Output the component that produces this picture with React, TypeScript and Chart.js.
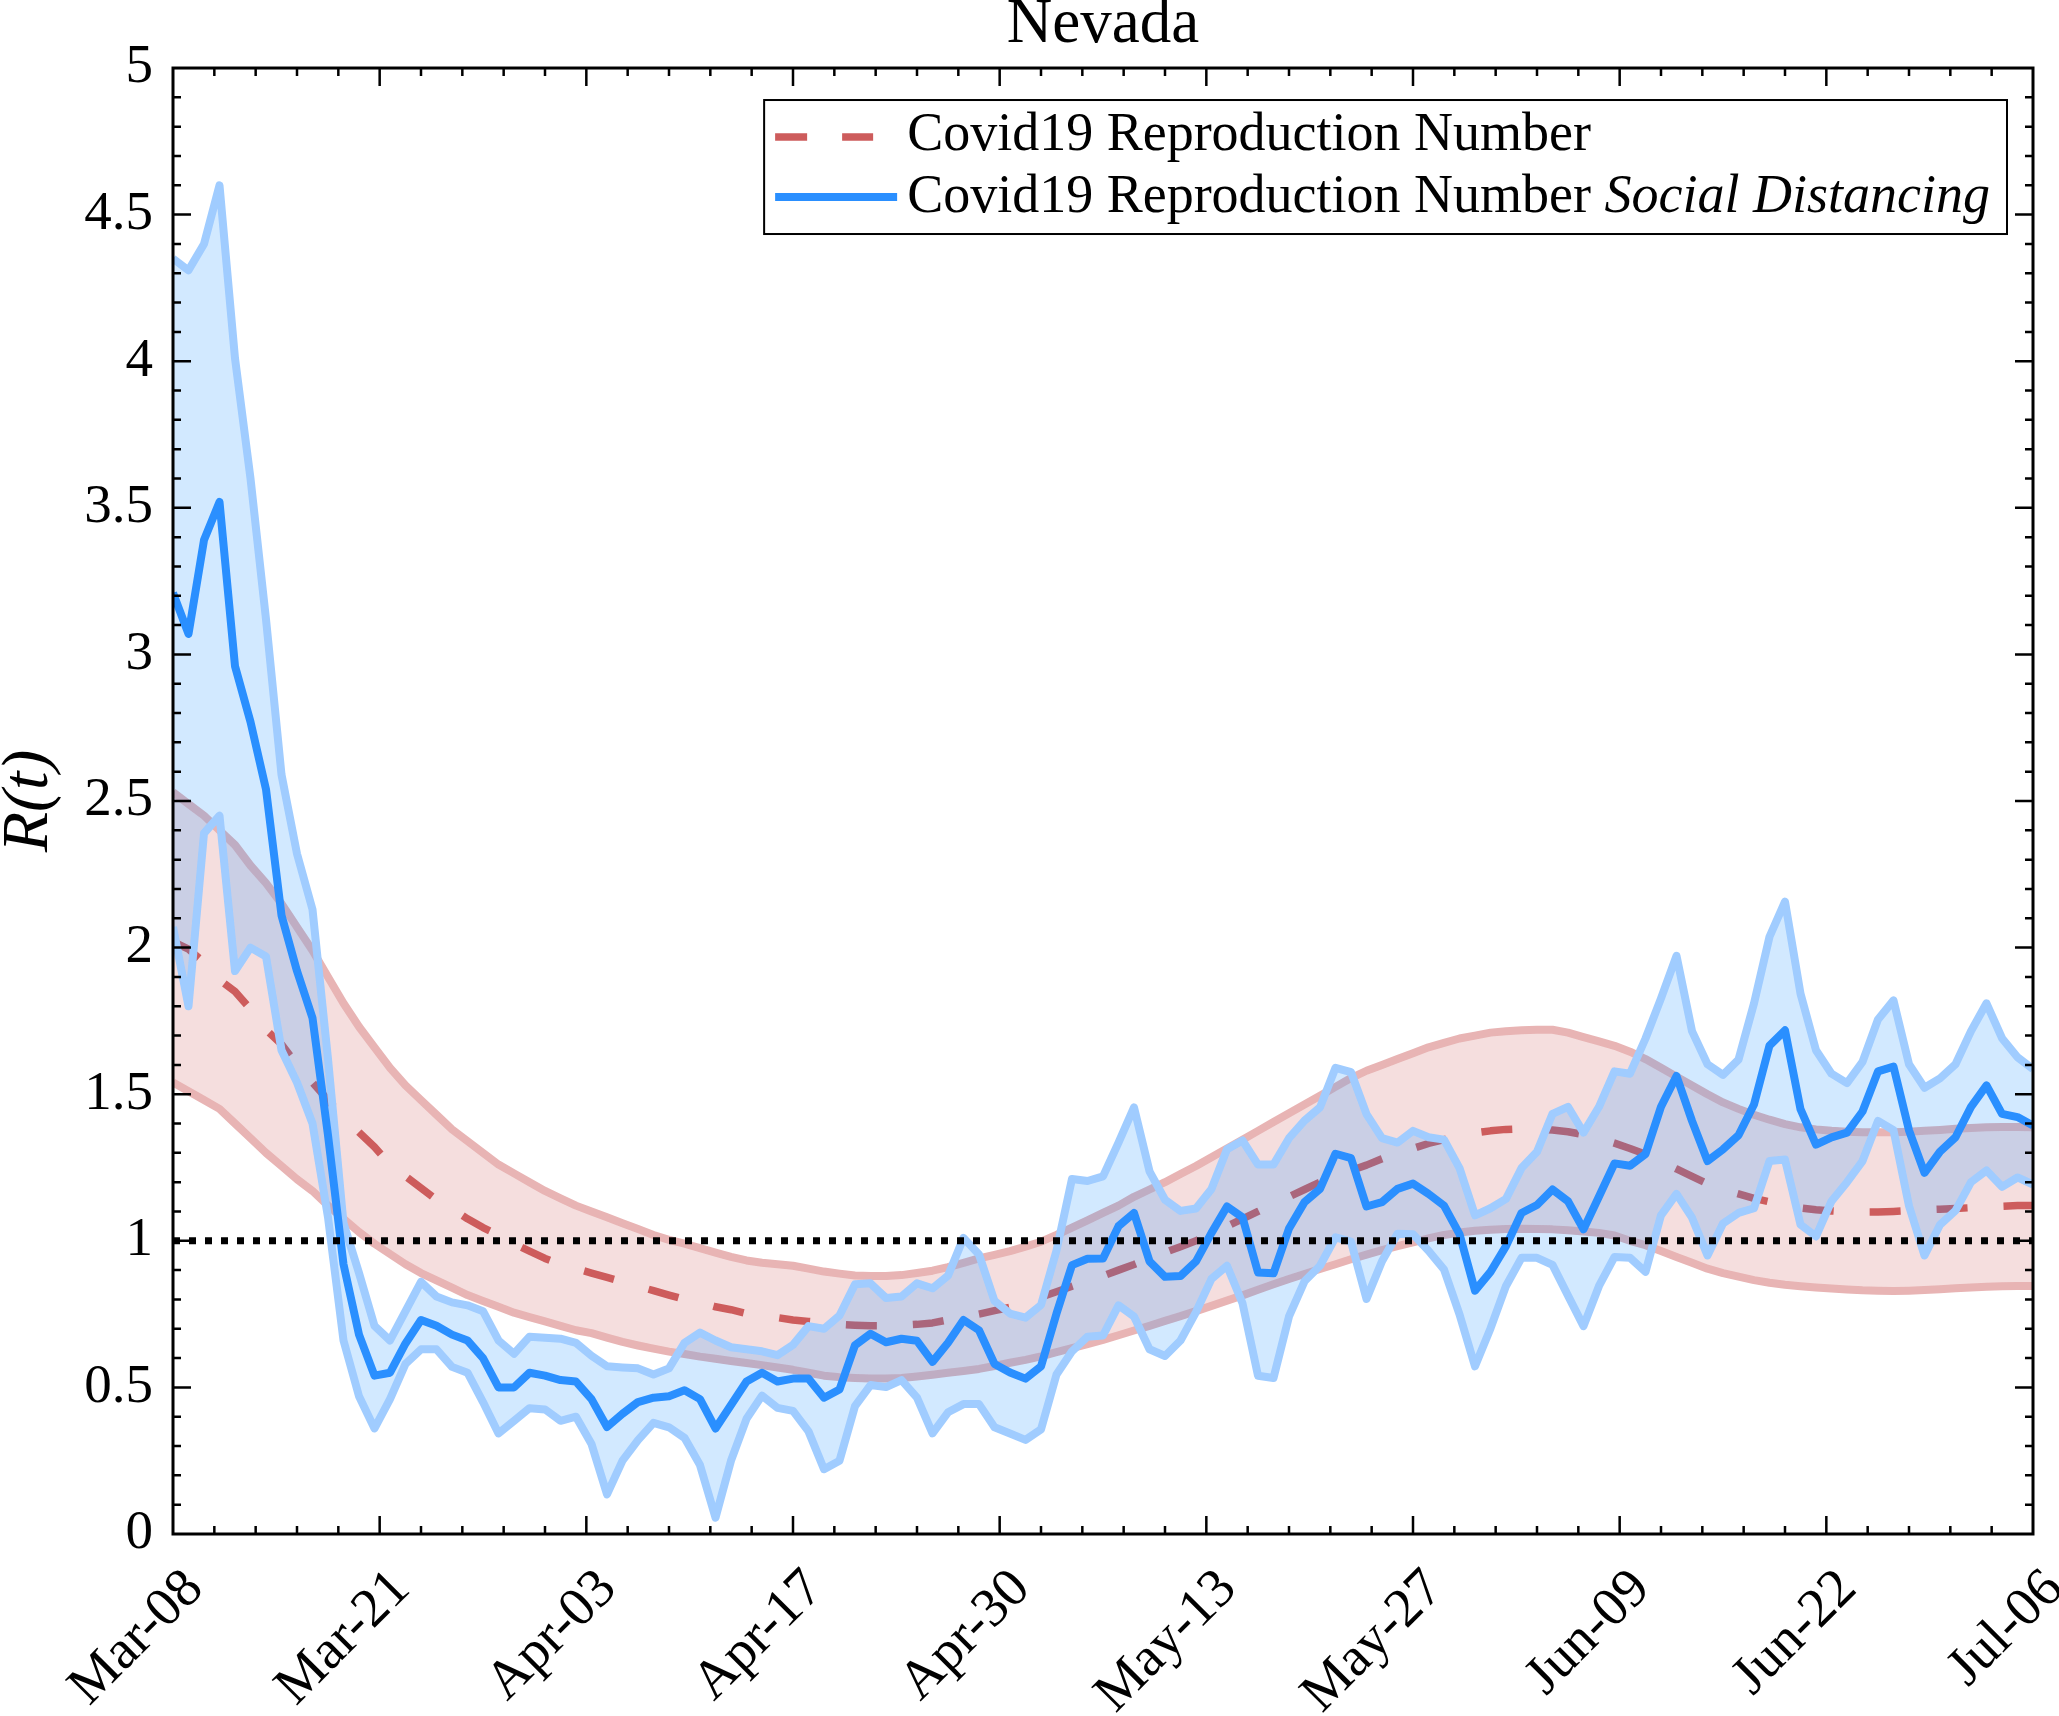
import { useEffect, useRef } from "react";
import { Chart, registerables } from "chart.js";

Chart.register(...registerables);

// days since Mar-08, ticks every 120/9 days
const dayCount: number = 120;
const xTickLabels: string[] = ["Mar-08", "Mar-21", "Apr-03", "Apr-17", "Apr-30", "May-13", "May-27", "Jun-09", "Jun-22", "Jul-06"];
const threshold: number = 1;

const legendLabels: string[] = ["Covid19 Reproduction Number", "Covid19 Reproduction Number"];
const legendEmphasis: string = "Social Distancing";

// R(t) with social distancing (blue) and its band
const blueMid: number[] = [
  3.21, 3.07, 3.39, 3.52, 2.96, 2.77, 2.54, 2.11, 1.92, 1.76,
  1.36, 0.92, 0.68, 0.54, 0.55, 0.65, 0.73, 0.71, 0.68, 0.66,
  0.6, 0.5, 0.5, 0.55, 0.54, 0.525, 0.52, 0.46, 0.365, 0.41,
  0.45, 0.465, 0.47, 0.49, 0.46, 0.36, 0.44, 0.52, 0.55, 0.52,
  0.53, 0.53, 0.465, 0.493, 0.644, 0.683, 0.654, 0.666, 0.659, 0.587,
  0.652, 0.73, 0.695, 0.58, 0.551, 0.53, 0.572, 0.752, 0.917, 0.939,
  0.94, 1.05, 1.095, 0.93, 0.877, 0.88, 0.93, 1.027, 1.117, 1.08,
  0.892, 0.889, 1.042, 1.132, 1.177, 1.297, 1.282, 1.117, 1.132, 1.177,
  1.195, 1.16, 1.12, 1.023, 0.83, 0.894, 0.982, 1.095, 1.122, 1.175,
  1.135, 1.039, 1.151, 1.264, 1.256, 1.296, 1.457, 1.562, 1.409, 1.272,
  1.312, 1.36, 1.465, 1.666, 1.718, 1.449, 1.328, 1.353, 1.369, 1.441,
  1.578, 1.594, 1.377, 1.232, 1.304, 1.353, 1.457, 1.53, 1.433, 1.422,
  1.393,
];
const blueUpper: number[] = [
  4.35, 4.31, 4.4, 4.6, 4.01, 3.6, 3.12, 2.59, 2.32, 2.13,
  1.62, 1.06, 0.89, 0.71, 0.66, 0.76, 0.86, 0.81, 0.79, 0.78,
  0.76, 0.66, 0.615, 0.673, 0.669, 0.666, 0.652, 0.608, 0.572, 0.568,
  0.565, 0.544, 0.565, 0.652, 0.687, 0.66, 0.637, 0.63, 0.623, 0.61,
  0.645, 0.709, 0.7, 0.745, 0.852, 0.855, 0.805, 0.81, 0.855, 0.838,
  0.881, 1.01, 0.953, 0.795, 0.752, 0.738, 0.781, 0.967, 1.211, 1.204,
  1.22, 1.335, 1.455, 1.237, 1.14, 1.102, 1.11, 1.177, 1.312, 1.342,
  1.26, 1.26, 1.35, 1.41, 1.455, 1.59, 1.575, 1.432, 1.35, 1.335,
  1.375, 1.353, 1.345, 1.248, 1.087, 1.111, 1.143, 1.248, 1.304, 1.433,
  1.457, 1.369, 1.457, 1.578, 1.57, 1.69, 1.827, 1.972, 1.715, 1.602,
  1.566, 1.618, 1.81, 2.037, 2.157, 1.843, 1.65, 1.57, 1.538, 1.61,
  1.755, 1.82, 1.602, 1.522, 1.554, 1.602, 1.715, 1.81, 1.691, 1.626,
  1.586,
];
const blueLower: number[] = [
  2.07, 1.8, 2.39, 2.45, 1.92, 2.0, 1.97, 1.65, 1.54, 1.4,
  1.08, 0.66, 0.47, 0.36, 0.46, 0.58, 0.63, 0.63, 0.57, 0.55,
  0.45, 0.343, 0.386, 0.429, 0.425, 0.386, 0.4, 0.307, 0.135, 0.25,
  0.32, 0.379, 0.364, 0.328, 0.235, 0.056, 0.25, 0.393, 0.472, 0.43,
  0.42, 0.35, 0.221, 0.25, 0.436, 0.508, 0.501, 0.525, 0.465, 0.343,
  0.415, 0.443, 0.443, 0.364, 0.343, 0.321, 0.357, 0.544, 0.623, 0.673,
  0.677, 0.78, 0.742, 0.63, 0.607, 0.66, 0.757, 0.87, 0.915, 0.787,
  0.54, 0.532, 0.742, 0.862, 0.915, 1.012, 0.997, 0.802, 0.93, 1.024,
  1.022, 0.966, 0.902, 0.749, 0.572, 0.701, 0.846, 0.942, 0.942, 0.918,
  0.813, 0.709, 0.846, 0.945, 0.942, 0.894, 1.087, 1.16, 1.079, 0.95,
  1.059, 1.095, 1.111, 1.272, 1.277, 1.055, 1.015, 1.135, 1.2, 1.272,
  1.409, 1.377, 1.119, 0.95, 1.055, 1.103, 1.2, 1.24, 1.184, 1.216,
  1.192,
];

// plain R(t) (red dashed) and its band
const redMid: number[] = [
  2.02, 1.995, 1.95, 1.89, 1.85, 1.79, 1.72, 1.67, 1.6, 1.54,
  1.48, 1.42, 1.37, 1.32, 1.26, 1.22, 1.18, 1.14, 1.11, 1.075,
  1.045, 1.02, 0.99, 0.965, 0.94, 0.92, 0.905, 0.89, 0.875, 0.86,
  0.845, 0.83, 0.815, 0.8, 0.79, 0.775, 0.765, 0.752, 0.745, 0.738,
  0.73, 0.725, 0.72, 0.715, 0.712, 0.71, 0.71, 0.712, 0.715, 0.72,
  0.73, 0.74, 0.75, 0.762, 0.773, 0.79, 0.808, 0.826, 0.845, 0.862,
  0.88, 0.9, 0.919, 0.94, 0.96, 0.98, 1.0, 1.025, 1.05, 1.075,
  1.1, 1.125, 1.15, 1.175, 1.2, 1.22, 1.24, 1.258, 1.28, 1.3,
  1.315, 1.332, 1.345, 1.357, 1.368, 1.375, 1.38, 1.382, 1.382, 1.378,
  1.372, 1.362, 1.35, 1.333, 1.315, 1.295, 1.27, 1.245, 1.22, 1.195,
  1.175, 1.16, 1.145, 1.133, 1.12, 1.112, 1.106, 1.102, 1.099, 1.098,
  1.098, 1.1, 1.103, 1.106, 1.108, 1.11, 1.113, 1.116, 1.118, 1.12,
  1.12,
];
const redUpper: number[] = [
  2.53, 2.49, 2.45, 2.4, 2.35, 2.28, 2.22, 2.15, 2.07, 1.99,
  1.9, 1.81, 1.73, 1.66, 1.59, 1.53, 1.48, 1.43, 1.38, 1.34,
  1.3, 1.26, 1.23, 1.2, 1.17, 1.145, 1.12, 1.1, 1.08, 1.06,
  1.04, 1.02, 1.003, 0.99, 0.975, 0.96, 0.945, 0.933, 0.925, 0.92,
  0.915, 0.905, 0.895, 0.888, 0.882, 0.88, 0.88, 0.883, 0.89, 0.898,
  0.91, 0.925, 0.94, 0.952, 0.965, 0.98, 0.997, 1.02, 1.045, 1.07,
  1.095, 1.12, 1.15, 1.175, 1.2, 1.228, 1.255, 1.285, 1.315, 1.345,
  1.375, 1.405, 1.435, 1.465, 1.495, 1.525, 1.555, 1.58, 1.6, 1.62,
  1.64, 1.66, 1.675, 1.69, 1.7, 1.71, 1.715, 1.718, 1.72, 1.72,
  1.71, 1.695, 1.68, 1.665, 1.645, 1.62, 1.59, 1.56, 1.53, 1.5,
  1.472, 1.45, 1.43, 1.413, 1.398, 1.387, 1.38, 1.375, 1.372, 1.37,
  1.37, 1.37, 1.372, 1.375, 1.378, 1.382, 1.385, 1.387, 1.388, 1.388,
  1.387,
];
const redLower: number[] = [
  1.54, 1.51, 1.48, 1.45, 1.4, 1.35, 1.3, 1.255, 1.21, 1.17,
  1.12, 1.075, 1.03, 0.99, 0.955, 0.92, 0.89, 0.865, 0.84, 0.815,
  0.795, 0.775, 0.755, 0.74, 0.725, 0.71, 0.695, 0.685, 0.67, 0.655,
  0.643, 0.632, 0.622, 0.614, 0.605, 0.598, 0.59, 0.583, 0.576, 0.568,
  0.56, 0.55, 0.54, 0.535, 0.532, 0.53, 0.53, 0.532, 0.537, 0.543,
  0.55, 0.556, 0.563, 0.573, 0.584, 0.594, 0.606, 0.62, 0.634, 0.648,
  0.662, 0.678, 0.694, 0.71, 0.727, 0.743, 0.76, 0.778, 0.796, 0.814,
  0.833, 0.852, 0.87, 0.887, 0.904, 0.92, 0.937, 0.953, 0.968, 0.982,
  0.995, 1.008, 1.02, 1.028, 1.034, 1.038, 1.04, 1.041, 1.04, 1.039,
  1.036, 1.032, 1.027, 1.018, 1.0, 0.985, 0.965, 0.945, 0.925, 0.905,
  0.89, 0.878, 0.866, 0.857, 0.85, 0.845, 0.841, 0.837, 0.834, 0.831,
  0.83, 0.829, 0.83, 0.832, 0.835, 0.838, 0.841, 0.843, 0.845, 0.846,
  0.846,
];

const FONT = "'Liberation Serif', 'Times New Roman', serif";
const blueLineColor = "#2A8FFF";
const blueEdgeColor = "#A0CCFF";
const blueFillColor = "rgba(30, 144, 255, 0.2)";
const redLineColor = "#CD5C5C";
const redEdgeColor = "#E8B4B4";
const redFillColor = "rgba(205, 92, 92, 0.2)";

Chart.defaults.font.family = FONT;
Chart.defaults.color = "#000";

// box around the plot with inward major / minor ticks on all four sides
const frameTicks = {
  id: "frameTicks",
  afterDatasetsDraw(chart: any) {
    const { ctx, chartArea: a } = chart;
    const xs = chart.scales.x;
    const ys = chart.scales.y;
    ctx.save();
    ctx.strokeStyle = "#000";
    ctx.lineWidth = 2.5;
    ctx.beginPath();
    for (let i = 1; i < 45; i++) {
      const px = xs.getPixelForValue((i * dayCount) / 45);
      const len = i % 5 === 0 ? 18 : 8;
      ctx.moveTo(px, a.bottom);
      ctx.lineTo(px, a.bottom - len);
      ctx.moveTo(px, a.top);
      ctx.lineTo(px, a.top + len);
    }
    for (let i = 1; i < 50; i++) {
      const py = ys.getPixelForValue(i * 0.1);
      const len = i % 5 === 0 ? 18 : 8;
      ctx.moveTo(a.left, py);
      ctx.lineTo(a.left + len, py);
      ctx.moveTo(a.right, py);
      ctx.lineTo(a.right - len, py);
    }
    ctx.stroke();
    ctx.lineWidth = 3;
    ctx.strokeRect(a.left, a.top, a.right - a.left, a.bottom - a.top);
    ctx.restore();
  },
};

// legend with the italic "Social Distancing" part
const legendBox = {
  id: "legendBox",
  afterDraw(chart: any) {
    const { ctx, chartArea: a } = chart;
    const normal = `54px ${FONT}`;
    const italic = `italic 54px ${FONT}`;
    ctx.save();
    ctx.font = normal;
    const w1 = ctx.measureText(legendLabels[0]).width;
    const lead = ctx.measureText(legendLabels[1] + " ").width;
    ctx.font = italic;
    const w2 = lead + ctx.measureText(legendEmphasis).width;
    const right = a.right - 26;
    const top = a.top + 32;
    const left = right - (143 + Math.max(w1, w2) + 17);
    const bottom = top + 134;

    ctx.fillStyle = "#fff";
    ctx.fillRect(left, top, right - left, bottom - top);
    ctx.strokeStyle = "#000";
    ctx.lineWidth = 2;
    ctx.strokeRect(left, top, right - left, bottom - top);

    ctx.lineCap = "butt";
    ctx.strokeStyle = redLineColor;
    ctx.lineWidth = 7.5;
    ctx.setLineDash([32, 35]);
    ctx.beginPath();
    ctx.moveTo(left + 11, top + 37);
    ctx.lineTo(left + 109, top + 37);
    ctx.stroke();
    ctx.setLineDash([]);
    ctx.strokeStyle = blueLineColor;
    ctx.lineWidth = 8;
    ctx.beginPath();
    ctx.moveTo(left + 11, top + 97);
    ctx.lineTo(left + 133, top + 97);
    ctx.stroke();

    ctx.fillStyle = "#000";
    ctx.textAlign = "left";
    ctx.textBaseline = "alphabetic";
    ctx.font = normal;
    ctx.fillText(legendLabels[0], left + 143, top + 50);
    ctx.fillText(legendLabels[1] + " ", left + 143, top + 112);
    ctx.font = italic;
    ctx.fillText(legendEmphasis, left + 143 + lead, top + 112);
    ctx.restore();
  },
};

const toPoints = (values: number[]) => values.map((y, x) => ({ x, y }));

const App: React.FC = () => {
  const chartRef = useRef<HTMLCanvasElement | null>(null);

  useEffect(() => {
    const chartConfig: any = {
      type: "line",
      data: {
        datasets: [
          {
            // 0: R = 1 reference
            data: [
              { x: 0, y: threshold },
              { x: dayCount, y: threshold },
            ],
            borderColor: "#000",
            borderWidth: 7,
            borderDash: [7, 9],
            borderCapStyle: "butt",
            fill: false,
            order: 0,
          },
          {
            // 1: social distancing R(t)
            data: toPoints(blueMid),
            borderColor: blueLineColor,
            borderWidth: 8,
            fill: false,
            order: 1,
          },
          {
            // 2: upper band
            data: toPoints(blueUpper),
            borderColor: blueEdgeColor,
            borderWidth: 8,
            fill: false,
            order: 2,
          },
          {
            // 3: lower band, filled up to dataset 2
            data: toPoints(blueLower),
            borderColor: blueEdgeColor,
            borderWidth: 8,
            fill: 2,
            backgroundColor: blueFillColor,
            order: 3,
          },
          {
            // 4: plain R(t)
            data: toPoints(redMid),
            borderColor: redLineColor,
            borderWidth: 7.5,
            borderDash: [31, 36],
            borderCapStyle: "butt",
            fill: false,
            order: 4,
          },
          {
            // 5: upper band
            data: toPoints(redUpper),
            borderColor: redEdgeColor,
            borderWidth: 8,
            fill: false,
            order: 5,
          },
          {
            // 6: lower band, filled up to dataset 5
            data: toPoints(redLower),
            borderColor: redEdgeColor,
            borderWidth: 8,
            fill: 5,
            backgroundColor: redFillColor,
            order: 6,
          },
        ],
      },
      options: {
        responsive: true,
        maintainAspectRatio: false,
        animation: false,
        layout: { padding: { left: 0, right: 26, top: 0, bottom: 0 } },
        elements: {
          point: { radius: 0, hoverRadius: 0 },
          line: { tension: 0, borderJoinStyle: "round" },
        },
        plugins: {
          legend: { display: false },
          tooltip: { enabled: false },
          title: {
            display: true,
            text: "Nevada",
            fullSize: false,
            color: "#000",
            font: { size: 63, weight: "normal", lineHeight: 0.794 },
            padding: { top: 0, bottom: 18 },
          },
        },
        scales: {
          x: {
            type: "linear",
            min: 0,
            max: dayCount,
            grid: { display: false, drawTicks: false },
            border: { display: false },
            afterBuildTicks: (scale: any) => {
              scale.ticks = xTickLabels.map((_, i) => ({
                value: (i * dayCount) / (xTickLabels.length - 1),
              }));
            },
            afterFit: (scale: any) => {
              scale.height = 182;
              scale.paddingLeft = 0;
              scale.paddingRight = 0;
            },
            ticks: {
              autoSkip: false,
              minRotation: 45,
              maxRotation: 45,
              padding: 23,
              labelOffset: 22,
              color: "#000",
              font: { size: 55 },
              callback: (_v: number, i: number) => xTickLabels[i],
            },
          },
          y: {
            type: "linear",
            min: 0,
            max: 5,
            grid: { display: false, drawTicks: false },
            border: { display: false },
            afterFit: (scale: any) => {
              scale.width = 173;
            },
            ticks: {
              stepSize: 0.5,
              padding: 20,
              color: "#000",
              font: { size: 55 },
              callback: (v: number) => String(v),
            },
            title: {
              display: true,
              text: "R(t)",
              color: "#000",
              font: { size: 66, style: "italic", lineHeight: 1 },
              padding: { top: -3, bottom: 0 },
            },
          },
        },
      },
      plugins: [frameTicks, legendBox],
    };

    const myChart = new Chart(chartRef.current!, chartConfig);

    return () => {
      myChart.destroy();
    };
  }, []);

  return (
    <div style={{ position: "absolute", left: 0, top: 0, width: 2059, height: 1716 }}>
      <canvas ref={chartRef} />
    </div>
  );
};

export default App;
